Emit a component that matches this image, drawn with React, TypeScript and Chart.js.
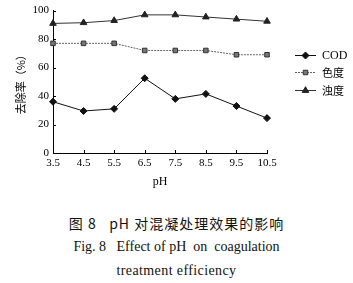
import { useEffect, useRef } from 'react';
import { Chart, registerables } from 'chart.js';
import { drawPoint } from 'chart.js/helpers';

Chart.register(...registerables);

const phLabels = ['3.5', '4.5', '5.5', '6.5', '7.5', '8.5', '9.5', '10.5'];
const codValues = [36, 29.5, 31, 52.5, 38, 41.5, 33, 24.5];
const colorValues = [77, 77, 77, 72, 72, 72, 69, 69];
const turbidityValues = [91, 91.5, 93, 97, 97, 95.5, 94, 92.5];
const seriesNames = ['COD', '色度', '浊度'];
const yAxisTitle = '去除率（%）';
const xAxisTitle = 'pH';
const captionLines = ['图 8   pH 对混凝处理效果的影响', 'Fig. 8   Effect of pH  on  coagulation', 'treatment efficiency'];

const SERIF = '"Liberation Serif", "Times New Roman", serif';
const CJK = '"Noto Sans CJK SC", "Liberation Serif", serif';

const inwardTicks = {
  id: 'inwardTicks',
  afterDraw(chart: any) {
    const { ctx, chartArea, scales } = chart;
    ctx.save();
    ctx.strokeStyle = '#000';
    ctx.lineWidth = 1;
    scales.y.ticks.forEach((t: any) => {
      const py = Math.round(scales.y.getPixelForValue(t.value)) + 0.5;
      ctx.beginPath();
      ctx.moveTo(chartArea.left, py);
      ctx.lineTo(chartArea.left + 3, py);
      ctx.stroke();
    });
    phLabels.forEach((_, i) => {
      const px = Math.round(scales.x.getPixelForValue(i)) + 0.5;
      ctx.beginPath();
      ctx.moveTo(px, chartArea.bottom);
      ctx.lineTo(px, chartArea.bottom - 3);
      ctx.stroke();
    });
    ctx.restore();
  },
};

const sideLegend = {
  id: 'sideLegend',
  afterDraw(chart: any) {
    const { ctx } = chart;
    const x0 = 295;
    const x1 = 316;
    const ys = [55, 72, 90];
    ctx.save();
    chart.data.datasets.forEach((ds: any, i: number) => {
      const y = ys[i];
      ctx.strokeStyle = ds.borderColor;
      ctx.lineWidth = ds.borderWidth;
      ctx.setLineDash(ds.borderDash || []);
      ctx.beginPath();
      ctx.moveTo(x0, y + 0.5);
      ctx.lineTo(x1, y + 0.5);
      ctx.stroke();
      ctx.setLineDash([]);
      ctx.fillStyle = ds.pointBackgroundColor;
      ctx.strokeStyle = ds.pointBorderColor;
      ctx.lineWidth = ds.pointBorderWidth;
      drawPoint(ctx, { pointStyle: ds.pointStyle, radius: ds.pointRadius, rotation: 0, borderWidth: ds.pointBorderWidth } as any, (x0 + x1) / 2, y + 0.5);
      ctx.fillStyle = '#000';
      ctx.font = i === 0 ? `12px ${SERIF}` : `11px ${CJK}`;
      ctx.textBaseline = 'middle';
      ctx.textAlign = 'left';
      ctx.fillText(ds.label, 322, y + 1);
    });
    ctx.restore();
  },
};

export default function App() {
  const ref = useRef<HTMLCanvasElement>(null);
  useEffect(() => {
    document.body.style.margin = '0';
    const chart = new Chart(ref.current!, {
      type: 'line',
      data: {
        labels: phLabels,
        datasets: [
          {
            label: seriesNames[0],
            data: codValues,
            borderColor: '#111',
            borderWidth: 1,
            pointStyle: 'rectRot',
            pointRadius: 3.5,
            pointBackgroundColor: '#111',
            pointBorderColor: '#111',
            pointBorderWidth: 1,
          },
          {
            label: seriesNames[1],
            data: colorValues,
            borderColor: '#666',
            borderWidth: 1,
            borderDash: [2, 1],
            pointStyle: 'rect',
            pointRadius: 3.2,
            pointBackgroundColor: '#777',
            pointBorderColor: '#333',
            pointBorderWidth: 1,
          },
          {
            label: seriesNames[2],
            data: turbidityValues,
            borderColor: '#333',
            borderWidth: 1,
            pointStyle: 'triangle',
            pointRadius: 3.8,
            pointBackgroundColor: '#222',
            pointBorderColor: '#222',
            pointBorderWidth: 1,
          },
        ] as any,
      },
      options: {
        responsive: false,
        animation: false,
        devicePixelRatio: 1,
        layout: { padding: { top: 10, right: 86, left: 0, bottom: 0 } },
        plugins: { legend: { display: false }, tooltip: { enabled: false } },
        scales: {
          x: {
            type: 'category',
            offset: false,
            grid: { display: false, drawTicks: false },
            border: { display: true, color: '#000', width: 1 },
            ticks: { color: '#000', font: { family: SERIF, size: 11 }, padding: 4, maxRotation: 0, autoSkip: false },
            title: { display: true, text: xAxisTitle, color: '#000', font: { family: SERIF, size: 12 }, padding: { top: 0, bottom: 6 } },
            afterFit(s: any) { s.height = 42; },
          },
          y: {
            min: 0,
            max: 100,
            grid: { display: false, drawTicks: false },
            border: { display: true, color: '#000', width: 1 },
            ticks: { stepSize: 20, color: '#000', font: { family: SERIF, size: 11 }, padding: 4 },
            title: { display: true, text: yAxisTitle, color: '#000', font: { family: CJK, size: 11 }, padding: { top: 14, bottom: 0 } },
            afterFit(s: any) { s.width = 53; },
          },
        },
      },
      plugins: [inwardTicks, sideLegend],
    });
    return () => chart.destroy();
  }, []);

  return (
    <div style={{ position: 'relative', width: 353, height: 283, background: '#fff', overflow: 'hidden' }}>
      <canvas ref={ref} width={353} height={195} style={{ position: 'absolute', left: 0, top: 0 }} />
      <div style={{ position: 'absolute', top: 213, left: 0, width: 353, textAlign: 'center', font: `14px ${CJK}`, letterSpacing: '1px', whiteSpace: 'pre', color: '#111' }}>{captionLines[0]}</div>
      <div style={{ position: 'absolute', top: 239, left: 0, width: 353, textAlign: 'center', font: `14px ${SERIF}`, letterSpacing: '0px', whiteSpace: 'pre', color: '#111' }}>{captionLines[1]}</div>
      <div style={{ position: 'absolute', top: 263, left: 0, width: 353, textAlign: 'center', font: `14px ${SERIF}`, letterSpacing: '0.4px', whiteSpace: 'pre', color: '#111' }}>{captionLines[2]}</div>
    </div>
  );
}
